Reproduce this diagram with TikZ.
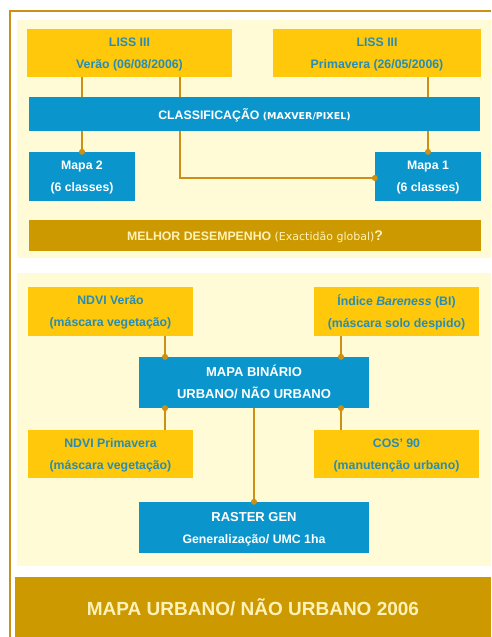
\documentclass[tikz,border=0pt]{standalone}
\usepackage{fontspec}
\setmainfont{Liberation Sans}
\newfontfamily\widefont{DejaVu Sans}
\definecolor{ylw}{RGB}{255,200,10}
\definecolor{tealtxt}{RGB}{40,140,180}
\definecolor{blu}{RGB}{10,150,205}
\definecolor{gold}{RGB}{204,153,0}
\definecolor{lnc}{RGB}{204,145,20}
\definecolor{panel}{RGB}{255,251,214}
\definecolor{cream}{RGB}{255,242,185}
\begin{document}
\begin{tikzpicture}[x=1pt,y=-1pt,
  box/.style={rectangle, inner sep=0pt, align=center, text depth=-2.5pt, font=\bfseries\fontsize{12.3}{22}\selectfont},
  ybox/.style={box, fill=ylw, text=tealtxt},
  bbox/.style={box, fill=blu, text=white},
  gbox/.style={box, fill=gold, text=cream},
  conn/.style={draw=lnc, line width=2pt},
  dotc/.style={fill=lnc}]
\fill[white] (0,0) rectangle (491,637);
\useasboundingbox (0,0) rectangle (491,637);
\draw[lnc, line width=2.5pt] (10,637) -- (10,11) -- (491,11);
\fill[panel] (17,20) rectangle (491,258);
\fill[panel] (17,273) rectangle (491,566);
% top panel
\node[ybox, minimum width=205pt, minimum height=48pt] (lv) at (129.5,53) {LISS III\\Verão (06/08/2006)};
\node[ybox, minimum width=208pt, minimum height=48pt] (lp) at (377,53) {LISS III\\Primavera (26/05/2006)};
\node[bbox, minimum width=451pt, minimum height=34pt] (cl) at (254.5,114) {CLASSIFICAÇÃO {\widefont\bfseries\fontsize{9.5}{12}\selectfont (MAXVER/PIXEL)}};
\node[bbox, minimum width=106pt, minimum height=49pt] (m2) at (82,176.5) {Mapa 2\\(6 classes)};
\node[bbox, minimum width=106pt, minimum height=49pt] (m1) at (428,176.5) {Mapa 1\\(6 classes)};
\node[gbox, minimum width=452pt, minimum height=31pt, text depth=0pt] (md) at (255,235.5) {MELHOR DESEMPENHO {\widefont\mdseries\fontsize{11}{12}\selectfont (Exactidão global)}{\fontsize{14}{14}\selectfont ?}};
\coordinate (xa) at (180,178);
\draw[conn] (lv.south -| m2.north) -- (cl.north -| m2.north);
\draw[conn] (lv.south -| xa) -- (cl.north -| xa);
\draw[conn] (lp.south -| m1.north) -- (cl.north -| m1.north);
\draw[conn] (cl.south -| m2.north) -- (m2.north);
\draw[conn] (cl.south -| m1.north) -- (m1.north);
\draw[conn] (cl.south -| xa) -- (xa) -- (xa -| m1.west);
\fill[dotc] (m2.north) circle (3pt);
\fill[dotc] (m1.north) circle (3pt);
\fill[dotc] (xa -| m1.west) circle (3pt);
% bottom panel
\node[ybox, minimum width=165pt, minimum height=49pt] (nv) at (110.5,311.5) {NDVI Verão\\(máscara vegetação)};
\node[ybox, minimum width=165pt, minimum height=49pt] (bi) at (396.5,311.5) {Índice \textit{Bareness} (BI)\\(máscara solo despido)};
\node[bbox, minimum width=230pt, minimum height=51pt, text depth=1pt, font=\bfseries\fontsize{13}{22}\selectfont] (mb) at (254,382.5) {MAPA BINÁRIO\\URBANO/ NÃO URBANO};
\node[ybox, minimum width=165pt, minimum height=48pt] (np) at (110.5,454) {NDVI Primavera\\(máscara vegetação)};
\node[ybox, minimum width=165pt, minimum height=48pt] (cs) at (396.5,454) {COS' 90\\(manutenção urbano)};
\node[bbox, minimum width=230pt, minimum height=51pt] (rg) at (254,527.5) {{\fontsize{13}{22}\selectfont RASTER GEN}\\Generalização/ UMC 1ha};
\coordinate (cL) at (165,0);
\coordinate (cR) at (341,0);
\draw[conn] (nv.south -| cL) -- (mb.north -| cL);
\draw[conn] (bi.south -| cR) -- (mb.north -| cR);
\draw[conn] (mb.south -| cL) -- (np.north -| cL);
\draw[conn] (mb.south -| cR) -- (cs.north -| cR);
\draw[conn] (mb.south) -- (rg.north);
\fill[dotc] (mb.north -| cL) circle (3pt);
\fill[dotc] (mb.north -| cR) circle (3pt);
\fill[dotc] (mb.south -| cL) circle (3pt);
\fill[dotc] (mb.south -| cR) circle (3pt);
\fill[dotc] (rg.north) circle (3pt);
% bottom bar
\node[gbox, minimum width=476pt, minimum height=60pt, text depth=-2pt, font=\bfseries\fontsize{19}{22}\selectfont] (fin) at (253,607) {MAPA URBANO/ NÃO URBANO 2006};
\end{tikzpicture}
\end{document}
